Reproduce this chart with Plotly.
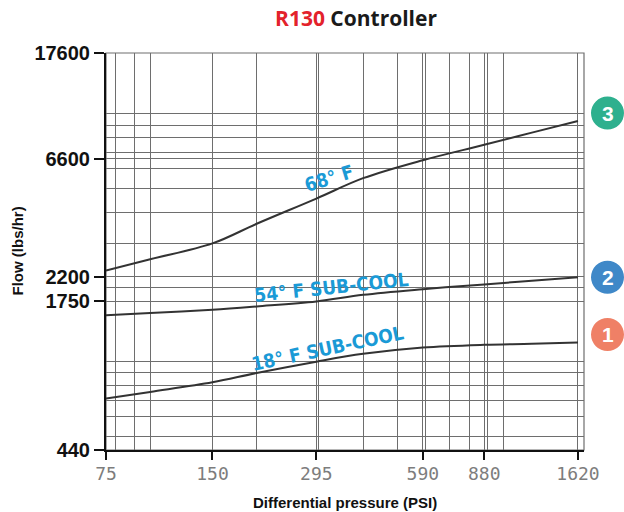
import numpy as np
import plotly.graph_objects as go

# Differential pressure (PSI) sample points and flow (lbs/hr) for each curve
pressure_psi = [75, 100, 150, 200, 295, 400, 590, 880, 1200, 1620]
flow_68f = [2330, 2590, 3000, 3600, 4550, 5500, 6500, 7500, 8400, 9350]
flow_54f_subcool = [1540, 1570, 1620, 1670, 1750, 1860, 1960, 2050, 2120, 2190]
flow_18f_subcool = [710, 755, 825, 900, 1000, 1075, 1140, 1170, 1180, 1195]

x_tick_values = [75, 150, 295, 590, 880, 1620]
y_tick_values = [440, 1750, 2200, 6600, 17600]

curve_labels = ["68° F", "54° F SUB-COOL", "18° F SUB-COOL"]
badge_numbers = ["3", "2", "1"]

LINE_COLOR = "#333333"
GRID_COLOR = "#6e6e6e"
LABEL_BLUE = "#1a9ad6"
BADGE_COLORS = ["#2eb08e", "#3f88c8", "#ef8066"]

X_RANGE = [np.log10(75), np.log10(1685)]
Y_RANGE = [np.log10(440), np.log10(17600)]

# per-curve styling: label anchor pressure, label rotation, label lift (px), badge lift (px)
label_at = [320, 325, 318]
label_angle = [-17, -6, -12]
label_lift = [15, 12, 12]
badge_lift = [8, 0, 8]

series = [flow_68f, flow_54f_subcool, flow_18f_subcool]

fig = go.Figure()

for flows in series:
    fig.add_trace(go.Scatter(
        x=pressure_psi, y=flows, mode="lines",
        line=dict(color=LINE_COLOR, width=2, shape="spline", smoothing=1.0),
        hoverinfo="x+y", showlegend=False,
    ))

annotations = []
shapes = []

lx = np.log10(pressure_psi)
for i, flows in enumerate(series):
    ly = np.log10(flows)
    # curve label sitting just above the line
    px = np.log10(label_at[i])
    py = float(np.interp(px, lx, ly))
    annotations.append(dict(
        x=px, y=py, xref="x", yref="y", text="<b>" + curve_labels[i] + "</b>",
        showarrow=False, textangle=label_angle[i], yshift=label_lift[i],
        font=dict(family="DejaVu Sans Condensed, Liberation Sans", size=19,
                  color=LABEL_BLUE),
    ))
    # numbered badge beside the right-hand end of the curve (paper fraction of the log axis)
    end_frac = float((ly[-1] - Y_RANGE[0]) / (Y_RANGE[1] - Y_RANGE[0]))
    shapes.append(dict(
        type="circle", xref="paper", yref="paper",
        xsizemode="pixel", ysizemode="pixel", xanchor=1, yanchor=end_frac,
        x0=7, x1=40, y0=-16.5 + badge_lift[i], y1=16.5 + badge_lift[i],
        fillcolor=BADGE_COLORS[i], line=dict(width=0), layer="above",
    ))
    annotations.append(dict(
        x=1, y=end_frac, xref="paper", yref="paper", xshift=23.5, yshift=badge_lift[i],
        xanchor="center", yanchor="middle",
        text="<b>" + badge_numbers[i] + "</b>", showarrow=False,
        font=dict(family="Liberation Sans", size=21, color="white"),
    ))

# plot frame
shapes.append(dict(type="rect", xref="paper", yref="paper", x0=0, x1=1, y0=0, y1=1,
                   line=dict(color=GRID_COLOR, width=1.2), layer="below"))

# axis titles
annotations.append(dict(
    x=0.5, y=0, xref="paper", yref="paper", yshift=-52, yanchor="middle",
    text="<b>Differential pressure (PSI)</b>", showarrow=False,
    font=dict(family="Liberation Sans", size=15, color="#111111"),
))
annotations.append(dict(
    x=0, y=0.5, xref="paper", yref="paper", xshift=-89, xanchor="center",
    text="<b>Flow (lbs/hr)</b>", showarrow=False, textangle=-90,
    font=dict(family="Liberation Sans", size=15, color="#111111"),
))

fig.update_layout(
    width=624, height=512,
    margin=dict(l=106, r=40, t=53, b=62),
    paper_bgcolor="white", plot_bgcolor="white",
    title=dict(
        text='<b><span style="color:#e3222b">R130</span> Controller</b>',
        x=356 / 624, xanchor="center", y=1 - 19 / 512, yanchor="middle",
        font=dict(family="Open Sans", size=21, color="#1a1a1a"),
    ),
    annotations=annotations,
    shapes=shapes,
)

fig.update_xaxes(
    type="log", range=X_RANGE,
    tickvals=x_tick_values, ticktext=[str(v) for v in x_tick_values],
    ticks="outside", ticklen=8, tickwidth=1.5, tickcolor="#111111",
    tickfont=dict(family="DejaVu Sans Mono", size=18, color="#7d7d7d"),
    ticklabelstandoff=-2,
    showline=True, linecolor="#111111", linewidth=2,
    showgrid=True, gridcolor=GRID_COLOR, gridwidth=1.2,
    minor=dict(dtick="D1", showgrid=True, gridcolor=GRID_COLOR, gridwidth=1.2, ticks=""),
    zeroline=False,
)
fig.update_yaxes(
    type="log", range=Y_RANGE,
    tickvals=y_tick_values, ticktext=[str(v) for v in y_tick_values],
    ticks="outside", ticklen=10, tickwidth=1.5, tickcolor="#111111",
    tickfont=dict(family="Liberation Sans", size=20, color="#111111", weight="bold"),
    showline=True, linecolor="#111111", linewidth=2,
    showgrid=True, gridcolor=GRID_COLOR, gridwidth=1.2,
    minor=dict(dtick="D1", showgrid=True, gridcolor=GRID_COLOR, gridwidth=1.2, ticks=""),
    zeroline=False,
)

fig.write_html("out.html")
